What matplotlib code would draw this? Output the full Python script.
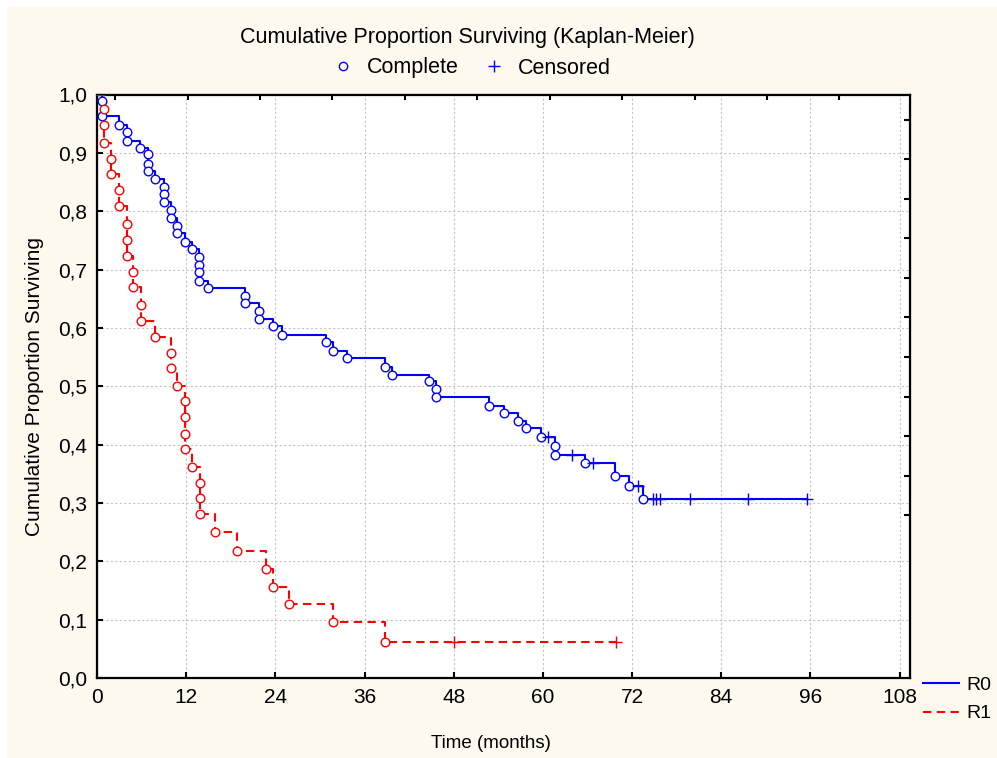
import matplotlib
matplotlib.use("Agg")
import matplotlib.pyplot as plt
from matplotlib.lines import Line2D
from matplotlib.patches import Rectangle
from matplotlib.ticker import FixedLocator, FuncFormatter

plt.rcParams['font.family'] = ['Liberation Sans', 'DejaVu Sans']

# ---- Kaplan-Meier data (months, cumulative proportion surviving) ----
# Group R0: complete (event) observations
r0_event_t = [0.7, 0.7, 3.0, 4.0, 4.0, 5.8, 6.8, 6.8, 6.8, 7.8, 9.0, 9.0, 9.0,
              9.9, 9.9, 10.8, 10.8, 11.8, 12.8, 13.7, 13.7, 13.7, 13.7, 14.9,
              19.9, 19.9, 21.8, 21.8, 23.7, 24.9, 30.8, 31.8, 33.7, 38.7, 39.7,
              44.7, 45.6, 45.6, 52.8, 54.7, 56.6, 57.7, 59.7, 61.6, 61.6, 65.6,
              69.7, 71.6, 73.5]
r0_event_s = [0.989, 0.963, 0.948, 0.935, 0.920, 0.908, 0.898, 0.881, 0.869,
              0.855, 0.841, 0.829, 0.815, 0.802, 0.788, 0.775, 0.763, 0.748,
              0.735, 0.721, 0.708, 0.695, 0.681, 0.668, 0.655, 0.642, 0.629,
              0.615, 0.603, 0.587, 0.576, 0.560, 0.549, 0.533, 0.520, 0.509,
              0.495, 0.481, 0.467, 0.455, 0.441, 0.428, 0.413, 0.398, 0.383,
              0.368, 0.346, 0.329, 0.306]
# Group R0: censored observations
r0_cens_t = [60.7, 63.9, 66.7, 72.8, 74.8, 75.2, 75.8, 79.8, 87.6, 95.6]
r0_cens_s = [0.413, 0.383, 0.368, 0.329, 0.306, 0.306, 0.306, 0.306, 0.306, 0.306]

# Group R1: complete (event) observations
r1_event_t = [0.9, 0.9, 0.9, 1.9, 1.9, 3.0, 3.0, 4.0, 4.0, 4.0, 4.9, 4.9, 5.9,
              5.9, 7.8, 9.9, 9.9, 10.8, 11.9, 11.9, 11.9, 11.9, 12.8, 13.8,
              13.8, 13.8, 15.9, 18.8, 22.8, 23.7, 25.9, 31.8, 38.8]
r1_event_s = [0.975, 0.948, 0.917, 0.889, 0.863, 0.836, 0.809, 0.778, 0.751,
              0.724, 0.696, 0.670, 0.639, 0.612, 0.585, 0.557, 0.531, 0.500,
              0.474, 0.447, 0.419, 0.392, 0.362, 0.335, 0.308, 0.281, 0.250,
              0.217, 0.187, 0.156, 0.126, 0.096, 0.062]
# Group R1: censored observations
r1_cens_t = [48.0, 69.8]
r1_cens_s = [0.062, 0.062]

group_names = ["R0", "R1"]
x_ticks = [0, 12, 24, 36, 48, 60, 72, 84, 96, 108]
y_ticks = [0.0, 0.1, 0.2, 0.3, 0.4, 0.5, 0.6, 0.7, 0.8, 0.9, 1.0]

BG = '#fdf9ee'
BLUE = '#0000ff'
RED = '#ff0000'

fig = plt.figure(figsize=(9.97, 7.58), dpi=100, facecolor=BG)
# thin white band along the top and left edges
fig.patches.append(Rectangle((0, 1 - 7 / 758), 1, 7 / 758, transform=fig.transFigure,
                             facecolor='white', edgecolor='none', zorder=-10))
fig.patches.append(Rectangle((0, 0), 7 / 997, 1, transform=fig.transFigure,
                             facecolor='white', edgecolor='none', zorder=-10))

ax = fig.add_axes([97 / 997, 1 - 678 / 758, (910 - 97) / 997, (678 - 94.5) / 758])
ax.set_facecolor('white')


def step_path(ev_t, ev_s, ce_t, ce_s):
    pts = sorted(list(zip(ev_t, ev_s)) + list(zip(ce_t, ce_s)), key=lambda p: (p[0], -p[1]))
    xs = [0.0] + [p[0] for p in pts]
    ys = [1.0] + [p[1] for p in pts]
    return xs, ys


# R0 survival curve
x0, y0 = step_path(r0_event_t, r0_event_s, r0_cens_t, r0_cens_s)
ax.plot(x0, y0, drawstyle='steps-post', color=BLUE, lw=1.5, zorder=3)
ax.plot(r0_event_t, r0_event_s, ls='none', marker='o', ms=6.2, mfc='white',
        mec=BLUE, mew=1.0, zorder=4)
ax.plot(r0_cens_t, r0_cens_s, ls='none', marker='+', ms=8, mec=BLUE, mew=1.0, zorder=4)

# R1 survival curve
x1, y1 = step_path(r1_event_t, r1_event_s, r1_cens_t, r1_cens_s)
ax.plot(x1, y1, drawstyle='steps-post', color=RED, lw=1.5, ls=(0, (4, 2.6)), zorder=3)
ax.plot(r1_event_t, r1_event_s, ls='none', marker='o', ms=6.2, mfc='white',
        mec=RED, mew=1.0, zorder=4)
ax.plot(r1_cens_t, r1_cens_s, ls='none', marker='+', ms=8, mec=RED, mew=1.0, zorder=4)

ax.set_xlim(0, 109.4)
ax.set_ylim(0, 1.0)
ax.xaxis.set_major_locator(FixedLocator(x_ticks))
ax.yaxis.set_major_locator(FixedLocator(y_ticks))
ax.yaxis.set_major_formatter(FuncFormatter(lambda v, p: f"{v:.1f}".replace('.', ',')))
ax.grid(True, color='#c4c4c4', lw=0.8, ls=(0, (2, 2)))
ax.set_axisbelow(True)
ax.tick_params(direction='in', length=4, width=1.5, labelsize=15, pad=7,
               top=False, right=False)
for sp in ax.spines.values():
    sp.set_linewidth(1.6)
    sp.set_color('black')

# extra tick marks along the top and right frame
top = ax.secondary_xaxis('top')
top.set_xticks([2.45 + 9.745 * k for k in range(11)])
top.tick_params(direction='in', length=4, width=1.5, labeltop=False)
right = ax.secondary_yaxis('right')
right.set_yticks([0.957 - 0.0678 * k for k in range(11)])
right.tick_params(direction='in', length=4, width=1.5, labelright=False)

ax.set_xlabel('Time (months)', fontsize=13.5)
ax.xaxis.set_label_coords((491 - 97) / 813, -(743 - 678) / 583.5, transform=None)
ax.xaxis.label.set_verticalalignment('center')
ax.set_ylabel('Cumulative Proportion Surviving', fontsize=15, labelpad=10)

fig.text(467.5 / 997, 1 - 38 / 758, 'Cumulative Proportion Surviving (Kaplan-Meier)',
         ha='center', va='center', fontsize=15.5)

mark_handles = [
    Line2D([], [], ls='none', marker='o', ms=6, mfc='none', mec=BLUE, mew=1.0),
    Line2D([], [], ls='none', marker='+', ms=8, mec=BLUE, mew=1.0),
]
fig.legend(mark_handles, ['Complete', 'Censored'], loc='center',
           bbox_to_anchor=(471.5 / 997, 1 - 68 / 758), ncol=2, frameon=False,
           fontsize=15.5, handlelength=1.0, handletextpad=0.6, columnspacing=1.15,
           borderpad=0, borderaxespad=0)

group_handles = [
    Line2D([], [], color=BLUE, lw=1.5),
    Line2D([], [], color=RED, lw=1.5, ls=(0, (4, 2.6))),
]
fig.legend(group_handles, group_names, loc='center left',
           bbox_to_anchor=(923 / 997, 1 - 699.5 / 758), frameon=False,
           fontsize=14, handlelength=1.85, handletextpad=0.4, labelspacing=0.55,
           borderpad=0, borderaxespad=0)

fig.savefig('out.png', dpi=100, facecolor=BG)
